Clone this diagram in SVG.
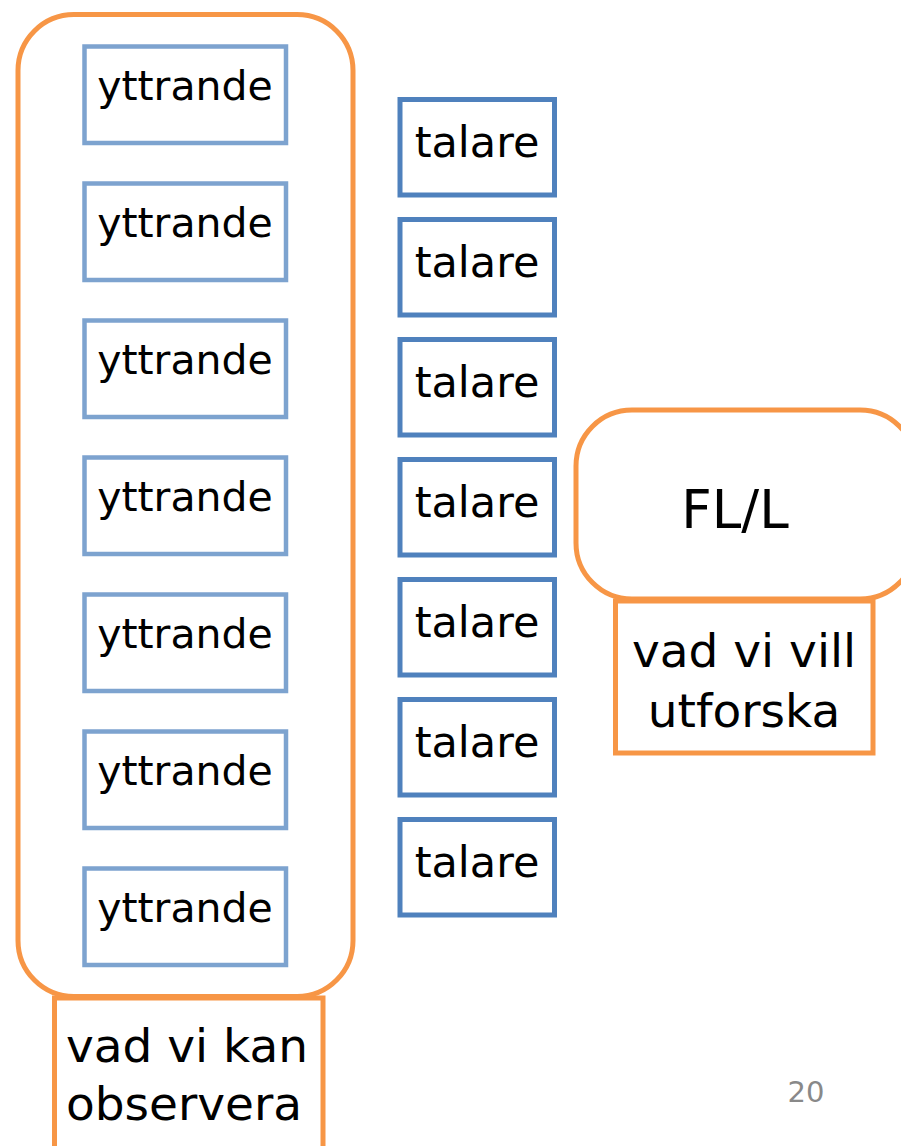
<svg xmlns="http://www.w3.org/2000/svg" width="901" height="1146" viewBox="0 0 901 1146">
<style>
.orange{fill:#fff;stroke:#F79646;stroke-width:5}
.ytt{fill:#fff;stroke:#7DA3CF;stroke-width:4.5}
.tal{fill:#fff;stroke:#4F81BD;stroke-width:5}
text{font-family:"DejaVu Sans",Verdana,sans-serif;fill:#000;text-anchor:middle}
.t1{font-size:41px}
.t2{font-size:43px}
.t3{font-size:47px}
.pg{font-size:29px;fill:#898989}
</style>
<rect width="901" height="1146" fill="#fff"/>
<g id="observe-group">
<rect class="orange" x="18" y="14.5" width="335" height="982" rx="56"/>
</g>
<g id="observe-label">
<rect class="orange" x="54.5" y="998" width="268.5" height="170"/>
<text class="t3" x="187" y="1062">vad vi kan</text>
<text class="t3" x="184" y="1120">observera</text>
</g>
<g id="yttrande-1"><rect class="ytt" x="84.5" y="46.5" width="201.5" height="96.5"/><text class="t1" x="185" y="100">yttrande</text></g>
<g id="yttrande-2"><rect class="ytt" x="84.5" y="183.5" width="201.5" height="96.5"/><text class="t1" x="185" y="237">yttrande</text></g>
<g id="yttrande-3"><rect class="ytt" x="84.5" y="320.5" width="201.5" height="96.5"/><text class="t1" x="185" y="374">yttrande</text></g>
<g id="yttrande-4"><rect class="ytt" x="84.5" y="457.5" width="201.5" height="96.5"/><text class="t1" x="185" y="511">yttrande</text></g>
<g id="yttrande-5"><rect class="ytt" x="84.5" y="594.5" width="201.5" height="96.5"/><text class="t1" x="185" y="648">yttrande</text></g>
<g id="yttrande-6"><rect class="ytt" x="84.5" y="731.5" width="201.5" height="96.5"/><text class="t1" x="185" y="785">yttrande</text></g>
<g id="yttrande-7"><rect class="ytt" x="84.5" y="868.5" width="201.5" height="96.5"/><text class="t1" x="185" y="922">yttrande</text></g>
<g id="talare-1"><rect class="tal" x="400" y="99.5" width="154.5" height="95.5"/><text class="t2" x="477" y="157">talare</text></g>
<g id="talare-2"><rect class="tal" x="400" y="219.5" width="154.5" height="95.5"/><text class="t2" x="477" y="277">talare</text></g>
<g id="talare-3"><rect class="tal" x="400" y="339.5" width="154.5" height="95.5"/><text class="t2" x="477" y="397">talare</text></g>
<g id="talare-4"><rect class="tal" x="400" y="459.5" width="154.5" height="95.5"/><text class="t2" x="477" y="517">talare</text></g>
<g id="talare-5"><rect class="tal" x="400" y="579.5" width="154.5" height="95.5"/><text class="t2" x="477" y="637">talare</text></g>
<g id="talare-6"><rect class="tal" x="400" y="699.5" width="154.5" height="95.5"/><text class="t2" x="477" y="757">talare</text></g>
<g id="talare-7"><rect class="tal" x="400" y="819.5" width="154.5" height="95.5"/><text class="t2" x="477" y="877">talare</text></g>
<g id="fl-l">
<rect class="orange" x="576" y="410" width="340" height="189" rx="56"/>
<text class="t3" x="735" y="528" style="font-size:53px">FL/L</text>
</g>
<g id="explore-label">
<rect class="orange" x="615.5" y="601" width="257.5" height="152"/>
<text class="t3" x="744" y="667">vad vi vill</text>
<text class="t3" x="744" y="727">utforska</text>
</g>
<g id="connectors"></g>
<text class="pg" x="806" y="1102">20</text>
</svg>
